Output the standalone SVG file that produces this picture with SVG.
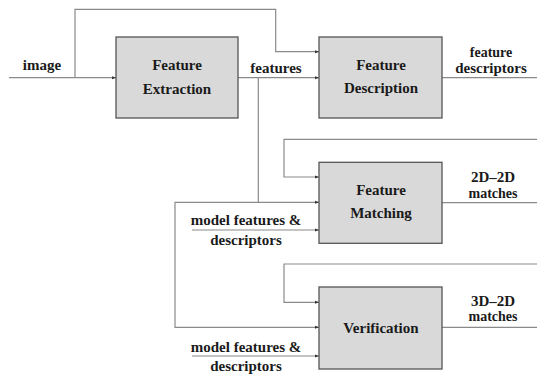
<svg xmlns="http://www.w3.org/2000/svg" width="537" height="374" viewBox="0 0 537 374">
<defs>
<marker id="ah" markerWidth="4" markerHeight="4" refX="4" refY="2" orient="auto" markerUnits="userSpaceOnUse">
<path d="M0,0.5 L4,2 L0,3.5 Z" fill="#333"/>
</marker>
<style>
.box{fill:#d9d9d9;stroke:#555;stroke-width:1.3}
.ln{fill:none;stroke:#8a8a8a;stroke-width:1.2}
.t{font-family:'Liberation Serif','DejaVu Serif',serif;font-weight:bold;font-size:15px;fill:#1a1a1a;text-anchor:middle}
.s{font-size:14px}
</style>
</defs>
<rect width="537" height="374" fill="#fff"/>
<g id="connectors">
<path class="ln" d="M9,77.7 H116" marker-end="url(#ah)"/>
<path class="ln" d="M75,77.7 V9.3 H275.7 V51.7 H319" marker-end="url(#ah)"/>
<path class="ln" d="M238,77.7 H319" marker-end="url(#ah)"/>
<path class="ln" d="M258.3,77.7 V202.3 H319" marker-end="url(#ah)"/>
<path class="ln" d="M258.3,202.3 H175 V327.3 H319" marker-end="url(#ah)"/>
<path class="ln" d="M442,77.7 H537"/>
<path class="ln" d="M537,139.3 H284 V177 H319" marker-end="url(#ah)"/>
<path class="ln" d="M192,230 H319" marker-end="url(#ah)"/>
<path class="ln" d="M442,202.7 H537"/>
<path class="ln" d="M537,264 H284 V302.3 H319" marker-end="url(#ah)"/>
<path class="ln" d="M192,356 H319" marker-end="url(#ah)"/>
<path class="ln" d="M442,327.3 H537"/>
</g>
<g id="extraction">
<rect class="box" x="116" y="37" width="122" height="81"/>
<text class="t" x="177" y="70">Feature</text>
<text class="t" x="177" y="93.5">Extraction</text>
</g>
<g id="description">
<rect class="box" x="319" y="37" width="123" height="81"/>
<text class="t" x="381" y="70">Feature</text>
<text class="t" x="381" y="93">Description</text>
</g>
<g id="matching">
<rect class="box" x="319" y="162.3" width="123" height="81"/>
<text class="t" x="381" y="195">Feature</text>
<text class="t" x="381" y="217.5">Matching</text>
</g>
<g id="verification">
<rect class="box" x="319" y="287" width="123" height="82"/>
<text class="t" x="381" y="332.5">Verification</text>
</g>
<g id="labels">
<text class="t" x="42" y="70">image</text>
<text class="t" x="276" y="72.7">features</text>
<text class="t s" x="491" y="57">feature</text>
<text class="t" x="491" y="73">descriptors</text>
<text class="t" x="246" y="225">model features &amp;</text>
<text class="t" x="246" y="245">descriptors</text>
<text class="t" x="493" y="182">2D–2D</text>
<text class="t s" x="493" y="198">matches</text>
<text class="t" x="246" y="351.7">model features &amp;</text>
<text class="t" x="246" y="370.7">descriptors</text>
<text class="t" x="493" y="306">3D–2D</text>
<text class="t s" x="493" y="321">matches</text>
</g>
</svg>
